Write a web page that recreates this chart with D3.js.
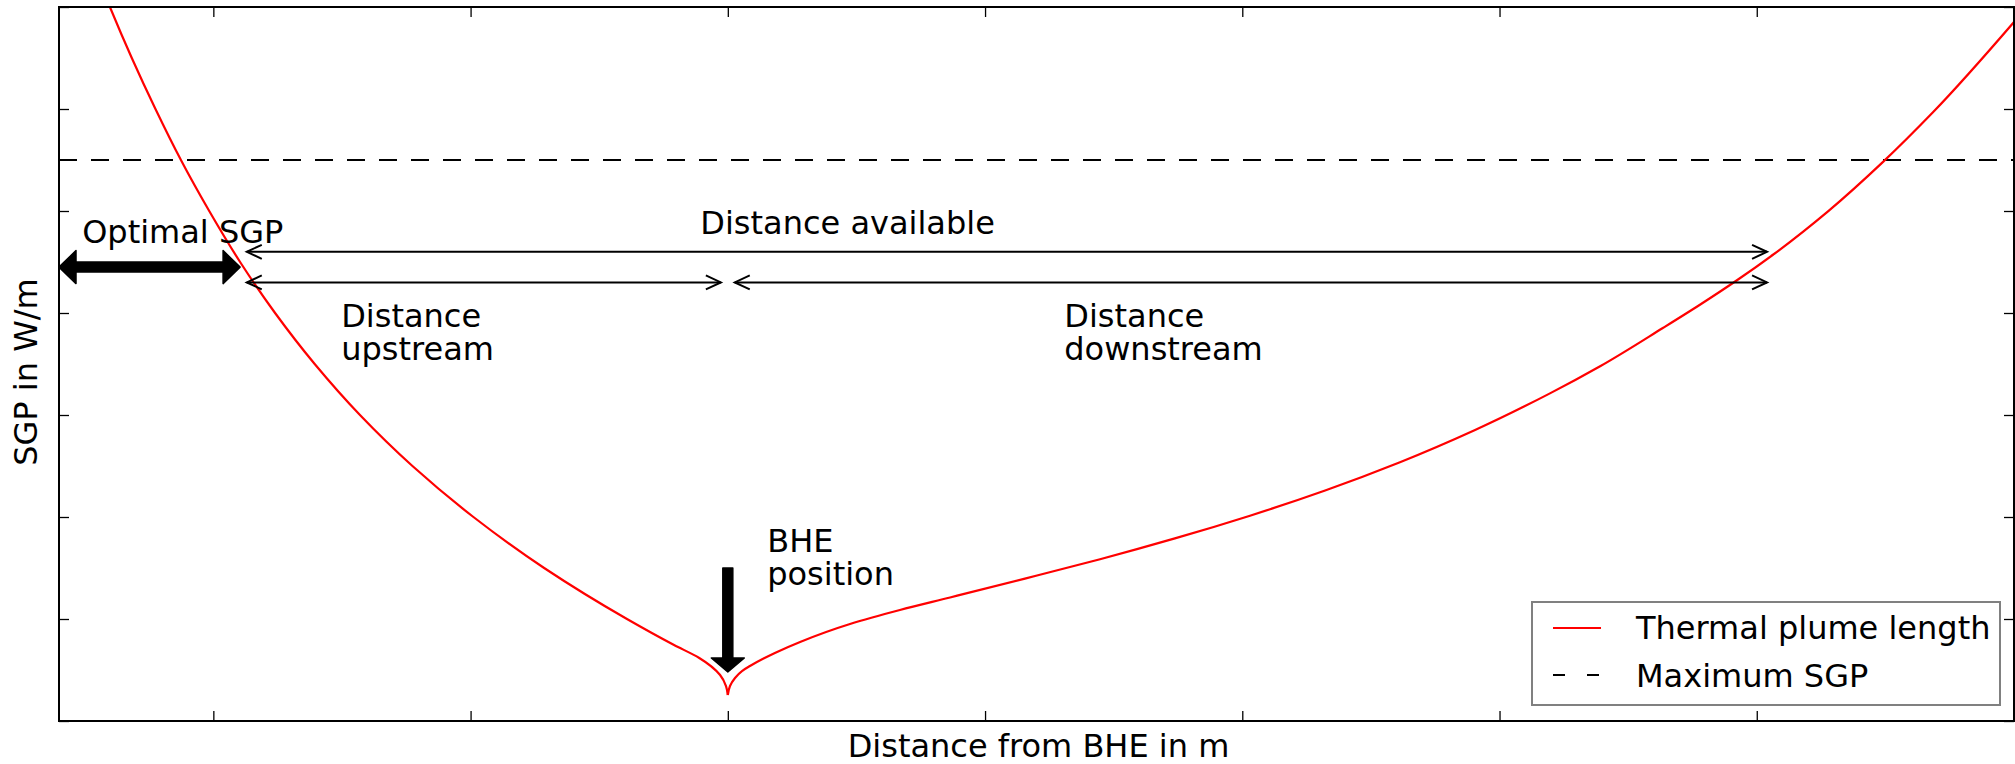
<!DOCTYPE html>
<html>
<head>
<meta charset="utf-8">
<script src="https://cdn.jsdelivr.net/npm/d3@7"></script>
<style>
  html, body { margin: 0; padding: 0; background: #fff; }
  svg { display: block; }
  text { font-family: "DejaVu Sans", sans-serif; font-size: 32px; fill: #000; }
</style>
</head>
<body>
<script>
// ---- data (distance from BHE in m, SGP in W/m) ----
// upstream branch of the thermal plume length curve
const upstreamSGP  = [7.3, 7.0, 6.5, 6.0, 5.5, 5.0, 4.5, 4.0, 3.5, 3.0, 2.5, 2.0, 1.5, 1.0, 0.745, 0.618, 0.451, 0.343, 0.255];
const upstreamDist = [-24.50, -24.02, -23.17, -22.25, -21.26, -20.16, -18.96, -17.60, -16.06, -14.30, -12.26, -9.89, -7.14, -3.92, -2.09, -1.11, -0.30, -0.07, 0];
// downstream branch
const downstreamSGP  = [6.853, 5.968, 5.482, 4.997, 4.571, 4.321, 4.081, 3.853, 3.478, 3.212, 2.853, 2.537, 2.260, 2.013, 1.790, 1.586, 1.396, 1.211, 1.088, 0.951, 0.775, 0.667, 0.539, 0.49, 0.422, 0.343, 0.255];
const downstreamDist = [50, 46.85, 44.91, 42.77, 40.63, 39.23, 37.79, 36.35, 33.91, 31.96, 29.05, 26.13, 23.22, 20.30, 17.38, 14.47, 11.55, 8.64, 6.69, 4.75, 2.81, 1.83, 0.86, 0.55, 0.28, 0.085, 0];

const maxSGP = 5.5;
const xDomain = [-26, 50];
const yDomain = [0, 7];
const xTicks = [-20, -10, 0, 10, 20, 30, 40, 50];
const yTicks = [0, 1, 2, 3, 4, 5, 6, 7];

// dimension arrows: [x start, x end, SGP level]
const availableArrow  = [-18.70, 40.40, 4.60];
const upstreamArrow   = [-18.70, -0.27, 4.30];
const downstreamArrow = [0.27, 40.40, 4.30];
const optimalArrow    = [-26.0, -18.96, 4.45];
const bhePosition     = [0, 1.50, 0.48];   // x, top, tip

// annotation texts: [label lines, x, baseline SGP]
const notes = [
  [["Optimal SGP"], -25.10, 4.69],
  [["Distance available"], -1.07, 4.775],
  [["Distance", "upstream"], -15.03, 3.863],
  [["Distance", "downstream"], 13.08, 3.863],
  [["BHE", "position"], 1.53, 1.657]
];
const legendLabels = ["Thermal plume length", "Maximum SGP"];

// ---- layout ----
const W = 2015, H = 764;
const plot = { left: 59, right: 2014, top: 7, bottom: 721 };

const svg = d3.select("body").append("svg").attr("width", W).attr("height", H);
svg.append("rect").attr("width", W).attr("height", H).attr("fill", "#fff");

const x = d3.scaleLinear().domain(xDomain).range([plot.left, plot.right]);
const y = d3.scaleLinear().domain(yDomain).range([plot.bottom, plot.top]);

svg.append("defs").append("clipPath").attr("id", "plotClip")
  .append("rect").attr("x", plot.left).attr("y", plot.top)
  .attr("width", plot.right - plot.left).attr("height", plot.bottom - plot.top);

const g = svg.append("g").attr("clip-path", "url(#plotClip)");

// maximum SGP line
g.append("line")
  .attr("x1", x(xDomain[0])).attr("x2", x(xDomain[1]))
  .attr("y1", y(maxSGP)).attr("y2", y(maxSGP))
  .attr("stroke", "#000").attr("stroke-width", 2.2)
  .attr("stroke-dasharray", "18,14");

// thermal plume length curve, one branch per side of the BHE (both ordered from high to low SGP)
const branch = d3.line().x(d => x(d[0])).y(d => y(d[1])).curve(d3.curveMonotoneY);
[[upstreamDist, upstreamSGP], [downstreamDist, downstreamSGP]].forEach(([xs, ys]) => {
  g.append("path")
    .datum(xs.map((v, i) => [v, ys[i]]))
    .attr("d", branch)
    .attr("fill", "none").attr("stroke", "#ff0000").attr("stroke-width", 2.2)
    .attr("stroke-linejoin", "round");
});

// thin double-headed dimension arrows
function thinArrow(a) {
  const x1 = x(a[0]), x2 = x(a[1]), yy = y(a[2]);
  const hl = 15, hw = 7;
  const grp = svg.append("g").attr("stroke", "#000").attr("stroke-width", 2)
    .attr("fill", "none").attr("stroke-linecap", "butt");
  grp.append("line").attr("x1", x1).attr("x2", x2).attr("y1", yy).attr("y2", yy);
  grp.append("path").attr("d", `M${x1 + hl},${yy - hw}L${x1},${yy}L${x1 + hl},${yy + hw}`);
  grp.append("path").attr("d", `M${x2 - hl},${yy - hw}L${x2},${yy}L${x2 - hl},${yy + hw}`);
}
thinArrow(availableArrow);
thinArrow(upstreamArrow);
thinArrow(downstreamArrow);

// thick optimal SGP arrow
(function () {
  const x1 = x(optimalArrow[0]), x2 = x(optimalArrow[1]), yy = y(optimalArrow[2]);
  const hl = 17, hw = 16.5, sw = 5;
  const pts = [[x1, yy], [x1 + hl, yy - hw], [x1 + hl, yy - sw], [x2 - hl, yy - sw], [x2 - hl, yy - hw],
               [x2, yy], [x2 - hl, yy + hw], [x2 - hl, yy + sw], [x1 + hl, yy + sw], [x1 + hl, yy + hw]];
  svg.append("path").attr("d", "M" + pts.map(p => p.join(",")).join("L") + "Z")
    .attr("fill", "#000").attr("stroke", "#000").attr("stroke-width", 1.5).attr("stroke-linejoin", "round");
})();

// BHE position arrow
(function () {
  const xx = x(bhePosition[0]), y1 = y(bhePosition[1]), y2 = y(bhePosition[2]);
  const hl = 14, hw = 16.5, sw = 5;
  const pts = [[xx - sw, y1], [xx + sw, y1], [xx + sw, y2 - hl], [xx + hw, y2 - hl], [xx, y2],
               [xx - hw, y2 - hl], [xx - sw, y2 - hl]];
  svg.append("path").attr("d", "M" + pts.map(p => p.join(",")).join("L") + "Z")
    .attr("fill", "#000").attr("stroke", "#000").attr("stroke-width", 1.5).attr("stroke-linejoin", "round");
})();

// annotation texts
const lineGap = 33;
notes.forEach(([lines, nx, ny]) => {
  const t = svg.append("text").attr("x", x(nx)).attr("y", y(ny));
  lines.forEach((s, i) => {
    t.append("tspan").attr("x", x(nx)).attr("y", y(ny) + i * lineGap).text(s);
  });
});

// axes: inward ticks without labels, mirrored on all sides
const tickLen = 10;
const axes = svg.append("g");
axes.append("g").attr("transform", `translate(0,${plot.bottom})`)
  .call(d3.axisTop(x).tickValues(xTicks).tickSize(tickLen).tickFormat(""));
axes.append("g").attr("transform", `translate(0,${plot.top})`)
  .call(d3.axisBottom(x).tickValues(xTicks).tickSize(tickLen).tickFormat(""));
axes.append("g").attr("transform", `translate(${plot.left},0)`)
  .call(d3.axisRight(y).tickValues(yTicks).tickSize(tickLen).tickFormat(""));
axes.append("g").attr("transform", `translate(${plot.right},0)`)
  .call(d3.axisLeft(y).tickValues(yTicks).tickSize(tickLen).tickFormat(""));
axes.selectAll(".domain").remove();
axes.selectAll(".tick line").attr("stroke", "#000").attr("stroke-width", 1.3);

// plot frame
svg.append("rect")
  .attr("x", plot.left).attr("y", plot.top)
  .attr("width", plot.right - plot.left).attr("height", plot.bottom - plot.top)
  .attr("fill", "none").attr("stroke", "#000").attr("stroke-width", 2);

// axis titles
svg.append("text")
  .attr("x", (plot.left + plot.right) / 2 + 2).attr("y", 757)
  .attr("text-anchor", "middle").text("Distance from BHE in m");
svg.append("text")
  .attr("transform", `translate(37,${(plot.top + plot.bottom) / 2 + 8}) rotate(-90)`)
  .attr("text-anchor", "middle").text("SGP in W/m");

// legend
const lg = svg.append("g");
const lgBox = { x: plot.right - 482, y: plot.bottom - 119, w: 468, h: 103 };
lg.append("rect").attr("x", lgBox.x).attr("y", lgBox.y).attr("width", lgBox.w).attr("height", lgBox.h)
  .attr("fill", "#fff").attr("stroke", "#808080").attr("stroke-width", 2);
const sx1 = lgBox.x + 21, sx2 = lgBox.x + 69, tx = lgBox.x + 104;
lg.append("line").attr("x1", sx1).attr("x2", sx2).attr("y1", lgBox.y + 26).attr("y2", lgBox.y + 26)
  .attr("stroke", "#ff0000").attr("stroke-width", 2.2);
lg.append("line").attr("x1", sx1).attr("x2", sx2 - 2).attr("y1", lgBox.y + 73).attr("y2", lgBox.y + 73)
  .attr("stroke", "#000").attr("stroke-width", 2.2).attr("stroke-dasharray", "12,22");
lg.append("text").attr("x", tx).attr("y", lgBox.y + 37).text(legendLabels[0]);
lg.append("text").attr("x", tx).attr("y", lgBox.y + 85).text(legendLabels[1]);
</script>
</body>
</html>
